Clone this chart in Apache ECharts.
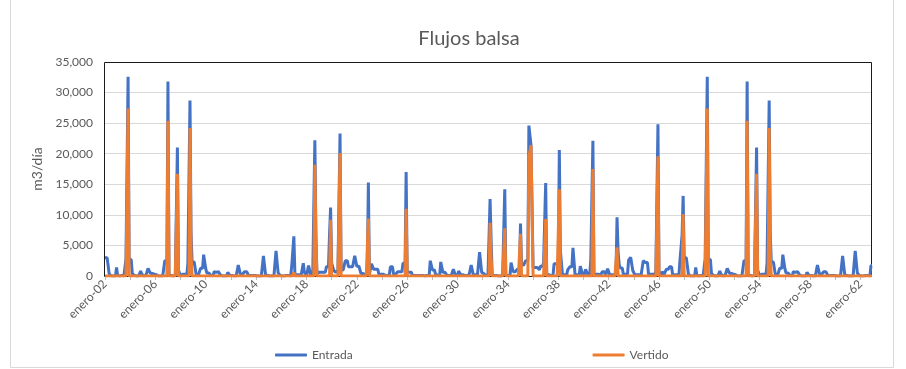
<!DOCTYPE html>
<html>
<head>
<meta charset="utf-8">
<script src="https://cdn.jsdelivr.net/npm/echarts@6/dist/echarts.min.js"></script>
<style>
  html, body { margin: 0; padding: 0; background: #fff; }
  #chart { width: 906px; height: 369px; }
</style>
</head>
<body>
<div id="chart"></div>
<script>
// Monthly series, January 1902 to December 1962 (m3/día), one row per year.
const meses = ['enero', 'febrero', 'marzo', 'abril', 'mayo', 'junio', 'julio',
  'agosto', 'septiembre', 'octubre', 'noviembre', 'diciembre'];
const anioInicial = 1902;
const anioFinal = 1962;

const entrada = [
  3000, 3000, 3000, 1700, 300, 0, 0, 0, 0, 0, 0, 1400,            // 1902
  100, 100, 0, 0, 100, 0, 0, 0, 2800, 2800, 32600, 2700,           // 1903
  2700, 2700, 400, 200, 100, 100, 0, 0, 0, 300, 800, 300,          // 1904
  0, 0, 100, 100, 100, 1250, 1250, 500, 400, 400, 400, 300,        // 1905
  300, 200, 100, 0, 0, 0, 0, 0, 0, 2500, 2500, 2500,               // 1906
  31800, 200, 100, 100, 0, 0, 100, 100, 100, 21000, 1000, 1000,    // 1907
  0, 0, 300, 600, 300, 100, 100, 2200, 2200, 28700, 7100, 2300,    // 1908
  2300, 2300, 2300, 100, 100, 100, 100, 1250, 1250, 1250, 3500, 3500, // 1909
  1200, 500, 500, 500, 300, 100, 0, 0, 700, 700, 600, 700,         // 1910
  700, 700, 200, 100, 0, 0, 0, 0, 0, 600, 600, 100,                // 1911
  100, 100, 0, 0, 0, 0, 0, 1800, 1800, 300, 300, 300,              // 1912
  300, 700, 700, 700, 400, 100, 100, 100, 100, 100, 100, 100,      // 1913
  0, 0, 0, 0, 0, 0, 0, 3300, 3300, 200, 100, 100,                  // 1914
  0, 0, 0, 0, 0, 0, 0, 4100, 4100, 500, 500, 100,                  // 1915
  0, 0, 0, 0, 0, 100, 100, 100, 100, 0, 1700, 1700,                // 1916
  6500, 200, 200, 200, 200, 200, 200, 200, 200, 2100, 600, 600,    // 1917
  0, 0, 1700, 1700, 200, 100, 100, 100, 22200, 6800, 400, 600,     // 1918
  600, 600, 600, 600, 600, 600, 600, 1500, 1500, 1500, 6800, 11200, // 1919
  2100, 2100, 900, 900, 600, 600, 900, 900, 23300, 1000, 1000, 1000, // 1920
  1000, 2500, 2500, 2500, 1500, 1500, 1500, 1500, 1500, 1500, 3300, 3300, // 1921
  1600, 1600, 1600, 1600, 400, 400, 400, 400, 200, 100, 100, 15300, // 1922
  300, 500, 2000, 2000, 1100, 1100, 1100, 1100, 1100, 300, 300, 300, // 1923
  300, 300, 100, 100, 100, 100, 100, 200, 1500, 1500, 1500, 300,   // 1924
  300, 300, 300, 700, 700, 700, 700, 700, 2100, 2100, 2100, 17000, // 1925
  600, 600, 600, 600, 600, 100, 100, 100, 100, 100, 100, 100,      // 1926
  100, 100, 100, 100, 100, 0, 0, 100, 100, 100, 2500, 2500,        // 1927
  1000, 1000, 1000, 300, 100, 100, 100, 100, 2300, 2300, 600, 600, // 1928
  600, 300, 100, 100, 100, 100, 100, 100, 1100, 1100, 100, 100,    // 1929
  100, 800, 800, 200, 200, 200, 100, 100, 100, 100, 200, 200,      // 1930
  200, 1800, 1800, 200, 200, 200, 200, 200, 200, 3900, 3900, 600,  // 1931
  400, 400, 400, 100, 100, 100, 100, 12600, 5900, 100, 100, 100,   // 1932
  100, 100, 100, 0, 0, 0, 0, 100, 100, 14200, 100, 100,            // 1933
  100, 100, 100, 2200, 2200, 700, 700, 700, 700, 1100, 1100, 1100, // 1934
  8600, 1800, 1800, 1800, 1800, 2500, 2500, 2500, 24600, 24600, 21400, 21400, // 1935
  1400, 1400, 1400, 1400, 1400, 1400, 1000, 1600, 1600, 1600, 2200, 2200, // 1936
  15200, 200, 200, 200, 200, 100, 100, 100, 2000, 2000, 2000, 2000, // 1937
  2000, 20600, 4100, 4100, 200, 200, 200, 200, 200, 1000, 1000, 1500, // 1938
  1500, 1500, 4600, 4600, 200, 200, 200, 200, 200, 1600, 1600, 300, // 1939
  300, 300, 1100, 1100, 300, 300, 300, 2600, 2600, 22100, 300, 300, // 1940
  300, 300, 300, 300, 100, 100, 700, 700, 700, 100, 100, 1200,     // 1941
  1200, 200, 200, 200, 200, 200, 200, 200, 9600, 4000, 1900, 1300, // 1942
  1300, 1300, 300, 300, 300, 300, 300, 2600, 2600, 3050, 3050, 900, // 1943
  900, 200, 200, 200, 200, 200, 200, 200, 200, 2500, 2500, 2200,   // 1944
  2200, 2200, 300, 300, 300, 300, 300, 300, 300, 800, 800, 24800,  // 1945
  200, 200, 200, 700, 700, 300, 300, 1100, 1100, 1100, 1500, 1500, // 1946
  1500, 200, 200, 200, 200, 200, 200, 200, 2600, 2600, 6700, 13100, // 1947
  3000, 3000, 3000, 1700, 300, 0, 0, 0, 0, 0, 0, 1400,            // 1948
  100, 100, 0, 0, 100, 0, 0, 0, 2800, 2800, 32600, 2700,           // 1949
  2700, 2700, 400, 200, 100, 100, 0, 0, 0, 300, 800, 300,          // 1950
  0, 0, 100, 100, 100, 1250, 1250, 500, 400, 400, 400, 300,        // 1951
  300, 200, 100, 0, 0, 0, 0, 0, 0, 2500, 2500, 2500,               // 1952
  31800, 200, 100, 100, 0, 0, 100, 100, 100, 21000, 1000, 1000,    // 1953
  0, 0, 300, 600, 300, 100, 100, 2200, 2200, 28700, 7100, 2300,    // 1954
  2300, 2300, 2300, 100, 100, 100, 100, 1250, 1250, 1250, 3500, 3500, // 1955
  1200, 500, 500, 500, 300, 100, 0, 0, 700, 700, 600, 700,         // 1956
  700, 700, 200, 100, 0, 0, 0, 0, 0, 600, 600, 100,                // 1957
  100, 100, 0, 0, 0, 0, 0, 1800, 1800, 300, 300, 300,              // 1958
  300, 700, 700, 700, 400, 100, 100, 100, 100, 100, 100, 100,      // 1959
  0, 0, 0, 0, 0, 0, 0, 3300, 3300, 200, 100, 100,                  // 1960
  0, 0, 0, 0, 0, 0, 0, 4100, 4100, 500, 500, 100,                  // 1961
  0, 0, 0, 0, 0, 100, 100, 100, 100, 0, 1700, 1700                 // 1962
];

const vertido = [
  0, 0, 0, 0, 0, 0, 0, 0, 0, 0, 0, 0,                              // 1902
  0, 0, 0, 0, 0, 0, 0, 0, 0, 0, 27400, 0,                          // 1903
  0, 0, 0, 0, 0, 0, 0, 0, 0, 0, 0, 0,                              // 1904
  0, 0, 0, 0, 0, 0, 0, 0, 0, 0, 0, 0,                              // 1905
  0, 0, 0, 0, 0, 0, 0, 0, 0, 0, 0, 0,                              // 1906
  25400, 0, 0, 0, 0, 0, 0, 0, 0, 16700, 0, 0,                      // 1907
  0, 0, 0, 0, 0, 0, 0, 0, 0, 24200, 3500, 0,                       // 1908
  0, 0, 0, 0, 0, 0, 0, 0, 0, 0, 0, 0,                              // 1909
  0, 0, 0, 0, 0, 0, 0, 0, 0, 0, 0, 0,                              // 1910
  0, 0, 0, 0, 0, 0, 0, 0, 0, 0, 0, 0,                              // 1911
  0, 0, 0, 0, 0, 0, 0, 0, 0, 0, 0, 0,                              // 1912
  0, 0, 0, 0, 0, 0, 0, 0, 0, 0, 0, 0,                              // 1913
  0, 0, 0, 0, 0, 0, 0, 0, 0, 0, 0, 0,                              // 1914
  0, 0, 0, 0, 0, 0, 0, 0, 0, 0, 0, 0,                              // 1915
  0, 0, 0, 0, 0, 0, 0, 0, 0, 0, 0, 0,                              // 1916
  600, 0, 0, 0, 0, 0, 0, 0, 0, 0, 0, 0,                            // 1917
  0, 0, 0, 0, 0, 0, 0, 0, 18200, 5600, 0, 0,                       // 1918
  0, 0, 0, 0, 0, 0, 0, 0, 0, 0, 0, 9200,                           // 1919
  0, 0, 0, 0, 0, 0, 0, 0, 20100, 0, 0, 0,                          // 1920
  0, 0, 0, 0, 0, 0, 0, 0, 0, 0, 0, 0,                              // 1921
  0, 0, 0, 0, 0, 0, 0, 0, 0, 0, 0, 9400,                           // 1922
  0, 0, 0, 0, 0, 0, 0, 0, 0, 0, 0, 0,                              // 1923
  0, 0, 0, 0, 0, 0, 0, 0, 0, 0, 0, 0,                              // 1924
  0, 0, 0, 0, 0, 0, 0, 0, 0, 0, 0, 11000,                          // 1925
  0, 0, 0, 0, 0, 0, 0, 0, 0, 0, 0, 0,                              // 1926
  0, 0, 0, 0, 0, 0, 0, 0, 0, 0, 0, 0,                              // 1927
  0, 0, 0, 0, 0, 0, 0, 0, 0, 0, 0, 0,                              // 1928
  0, 0, 0, 0, 0, 0, 0, 0, 0, 0, 0, 0,                              // 1929
  0, 0, 0, 0, 0, 0, 0, 0, 0, 0, 0, 0,                              // 1930
  0, 0, 0, 0, 0, 0, 0, 0, 0, 0, 0, 0,                              // 1931
  0, 0, 0, 0, 0, 0, 0, 8700, 3000, 0, 0, 0,                        // 1932
  0, 0, 0, 0, 0, 0, 0, 0, 0, 7800, 0, 0,                           // 1933
  0, 0, 0, 0, 0, 0, 0, 0, 0, 0, 0, 0,                              // 1934
  6900, 0, 0, 0, 0, 0, 0, 0, 19500, 19500, 21400, 21400,           // 1935
  0, 0, 0, 0, 0, 0, 0, 0, 0, 0, 0, 0,                              // 1936
  9300, 0, 0, 0, 0, 0, 0, 0, 0, 0, 0, 0,                           // 1937
  0, 14200, 0, 0, 0, 0, 0, 0, 0, 0, 0, 0,                          // 1938
  0, 0, 0, 0, 0, 0, 0, 0, 0, 0, 0, 0,                              // 1939
  0, 0, 0, 0, 0, 0, 0, 0, 0, 17500, 0, 0,                          // 1940
  0, 0, 0, 0, 0, 0, 0, 0, 0, 0, 0, 0,                              // 1941
  0, 0, 0, 0, 0, 0, 0, 0, 4700, 0, 0, 0,                           // 1942
  0, 0, 0, 0, 0, 0, 0, 0, 0, 0, 0, 0,                              // 1943
  0, 0, 0, 0, 0, 0, 0, 0, 0, 0, 0, 0,                              // 1944
  0, 0, 0, 0, 0, 0, 0, 0, 0, 0, 0, 19600,                          // 1945
  0, 0, 0, 0, 0, 0, 0, 0, 0, 0, 0, 0,                              // 1946
  0, 0, 0, 0, 0, 0, 0, 0, 0, 0, 0, 10100,                          // 1947
  0, 0, 0, 0, 0, 0, 0, 0, 0, 0, 0, 0,                              // 1948
  0, 0, 0, 0, 0, 0, 0, 0, 0, 0, 27400, 0,                          // 1949
  0, 0, 0, 0, 0, 0, 0, 0, 0, 0, 0, 0,                              // 1950
  0, 0, 0, 0, 0, 0, 0, 0, 0, 0, 0, 0,                              // 1951
  0, 0, 0, 0, 0, 0, 0, 0, 0, 0, 0, 0,                              // 1952
  25400, 0, 0, 0, 0, 0, 0, 0, 0, 16700, 0, 0,                      // 1953
  0, 0, 0, 0, 0, 0, 0, 0, 0, 24200, 3500, 0,                       // 1954
  0, 0, 0, 0, 0, 0, 0, 0, 0, 0, 0, 0,                              // 1955
  0, 0, 0, 0, 0, 0, 0, 0, 0, 0, 0, 0,                              // 1956
  0, 0, 0, 0, 0, 0, 0, 0, 0, 0, 0, 0,                              // 1957
  0, 0, 0, 0, 0, 0, 0, 0, 0, 0, 0, 0,                              // 1958
  0, 0, 0, 0, 0, 0, 0, 0, 0, 0, 0, 0,                              // 1959
  0, 0, 0, 0, 0, 0, 0, 0, 0, 0, 0, 0,                              // 1960
  0, 0, 0, 0, 0, 0, 0, 0, 0, 0, 0, 0,                              // 1961
  0, 0, 0, 0, 0, 0, 0, 0, 0, 0, 0, 0                               // 1962
];

// Category labels like "enero-02"
const categorias = [];
for (let a = anioInicial; a <= anioFinal; a++) {
  const yy = String(a % 100).padStart(2, '0');
  for (const m of meses) categorias.push(m + '-' + yy);
}

const AZUL = '#4472C4';
const NARANJA = '#ED7D31';
const GRIS = '#595959';
const FUENTE = 'Lato, "Liberation Sans", sans-serif';

const grid = { left: 105, right: 34, top: 62, bottom: 93 };
const anchoPlot = 906 - grid.left - grid.right;
const altoPlot = 369 - grid.top - grid.bottom;

const chart = echarts.init(document.getElementById('chart'), null, { renderer: 'canvas' });
chart.setOption({
  animation: false,
  backgroundColor: '#fff',
  textStyle: { fontFamily: FUENTE },
  title: {
    text: 'Flujos balsa',
    left: 464,
    top: 24,
    textAlign: 'center',
    textStyle: { fontSize: 20, fontWeight: 'normal', color: GRIS, fontFamily: FUENTE }
  },
  legend: {
    data: ['Entrada', 'Vertido'],
    left: 270,
    top: 344,
    icon: 'roundRect',
    itemWidth: 32,
    itemHeight: 3,
    itemGap: 240,
    textStyle: { color: GRIS, fontSize: 12, fontFamily: FUENTE }
  },
  grid: grid,
  xAxis: {
    type: 'category',
    data: categorias,
    boundaryGap: false,
    axisLine: { show: true, lineStyle: { color: '#D9D9D9' } },
    axisTick: { show: true, interval: 23, length: 4, lineStyle: { color: '#BFBFBF' } },
    axisLabel: { interval: 47, rotate: 45, color: GRIS, fontSize: 12, margin: 6, fontFamily: FUENTE },
    splitLine: { show: false }
  },
  yAxis: {
    type: 'value',
    min: 0,
    max: 35000,
    interval: 5000,
    name: 'm3/día',
    nameLocation: 'middle',
    nameGap: 56,
    nameRotate: 90,
    nameTextStyle: { fontSize: 14, color: GRIS, fontFamily: FUENTE },
    axisLine: { show: false },
    axisTick: { show: false },
    axisLabel: {
      color: GRIS, fontSize: 12, margin: 12, fontFamily: FUENTE,
      formatter: v => v.toLocaleString('en-US')
    },
    splitLine: { lineStyle: { color: '#D9D9D9', width: 1 } }
  },
  graphic: [
    {
      type: 'rect',
      z: 1,
      silent: true,
      shape: { x: grid.left - 0.5, y: grid.top + 0.5, width: anchoPlot, height: altoPlot },
      style: { fill: 'none', stroke: '#1a1a1a', lineWidth: 1 }
    },
    {
      type: 'rect',
      z: 0,
      silent: true,
      shape: { x: 10.5, y: -1, width: 883, height: 368.5 },
      style: { fill: 'none', stroke: '#D9D9D9', lineWidth: 1 }
    }
  ],
  series: [
    {
      name: 'Entrada',
      type: 'line',
      data: entrada,
      showSymbol: false,
      symbol: 'none',
      color: AZUL,
      lineStyle: { color: AZUL, width: 3, join: 'bevel' },
      z: 2
    },
    {
      name: 'Vertido',
      type: 'line',
      data: vertido,
      showSymbol: false,
      symbol: 'none',
      color: NARANJA,
      lineStyle: { color: NARANJA, width: 3, join: 'bevel' },
      z: 3
    }
  ]
});
</script>
</body>
</html>
